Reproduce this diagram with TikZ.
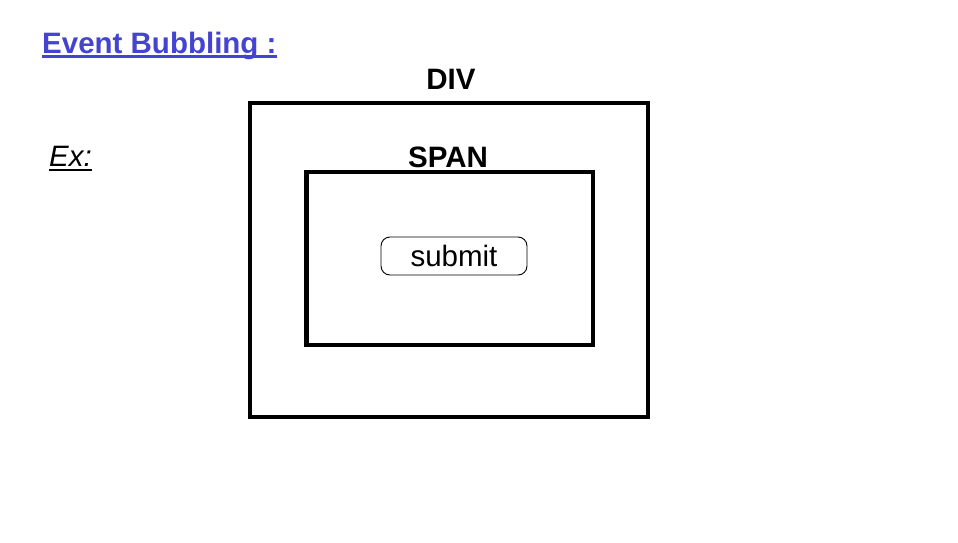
\documentclass[tikz,border=0pt]{standalone}
\usepackage{fontspec}
\setmainfont{Liberation Sans}
\definecolor{titleblue}{RGB}{68,68,208}
\begin{document}
\begin{tikzpicture}[x=1pt,y=-1pt,
  boxline/.style={draw=black,line width=4.5pt},
  lbl/.style={inner sep=0pt,anchor=base,font=\fontsize{29.5}{34}\selectfont\bfseries},
  btn/.style={draw=black,line width=0.9pt,rounded corners=9pt}]
\useasboundingbox[fill=white] (0,0) rectangle (958,543);
% title
\node[inner sep=0pt,anchor=base west,text=titleblue,font=\fontsize{29.5}{34}\selectfont\bfseries] (title) at (42,53) {Event Bubbling :};
\draw[titleblue,line width=3pt] (title.base west) ++(0,3.5) coordinate (tu1) -- (tu1 -| title.base east);
% Ex
\node[inner sep=0pt,anchor=base west,font=\fontsize{29.5}{34}\selectfont\itshape] (ex) at (49,166) {Ex:};
\draw[black,line width=2pt] (ex.base west) ++(0,4) coordinate (eu1) -- (eu1 -| ex.base east);
% boxes
\draw[boxline] (250,103) rectangle (648,417);
\draw[boxline] (306.5,172) rectangle (593,345);
\node[lbl] (div) at (451,89.5) {DIV};
\node[lbl] (span) at (448,167.5) {SPAN};
\node[btn,minimum width=146pt,minimum height=38pt,inner sep=0pt,font=\fontsize{29.5}{33}\selectfont] (submit) at (454,256) {submit};
\end{tikzpicture}
\end{document}
